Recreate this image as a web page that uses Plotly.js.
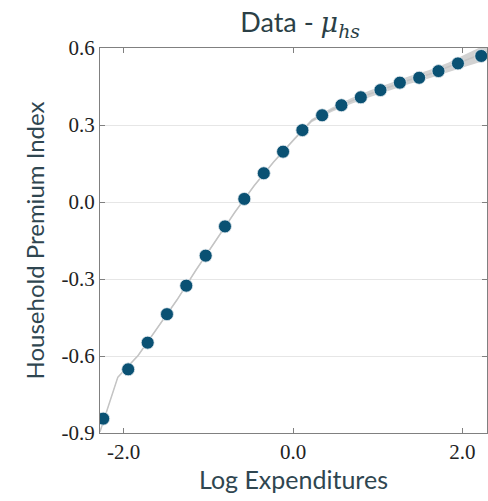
<!DOCTYPE html>
<html>
<head>
<meta charset="utf-8">
<script src="https://cdn.plot.ly/plotly-3.0.1.min.js"></script>
<style>html,body{margin:0;padding:0;background:#fff;}#chart{width:488px;height:501px;}</style>
</head>
<body>
<div id="chart"></div>
<script>
// Binned data points
const pointX = [-2.242, -1.947, -1.717, -1.489, -1.261, -1.032, -0.804, -0.576, -0.346, -0.118,
                0.110, 0.343, 0.571, 0.800, 1.032, 1.261, 1.489, 1.717, 1.947, 2.222];
const pointY = [-0.844, -0.652, -0.548, -0.437, -0.326, -0.209, -0.095, 0.012, 0.112, 0.196,
                0.280, 0.338, 0.377, 0.408, 0.436, 0.465, 0.484, 0.510, 0.540, 0.569];

// Fitted line and its band
const lineX = [-2.28, -2.07, -1.83, -1.60, -1.37, -1.15, -0.92, -0.69, -0.46, -0.23, 0.00,
               0.22, 0.46, 0.69, 0.92, 1.15, 1.37, 1.60, 1.83, 2.06, 2.29];
const lineY = [-0.895, -0.683, -0.598, -0.492, -0.381, -0.267, -0.152, -0.041, 0.063, 0.156, 0.240,
               0.317, 0.360, 0.394, 0.423, 0.451, 0.475, 0.497, 0.525, 0.555, 0.585];
const bandLo = [-0.898, -0.686, -0.601, -0.495, -0.384, -0.270, -0.155, -0.044, 0.060, 0.153, 0.236,
                0.311, 0.352, 0.383, 0.410, 0.437, 0.460, 0.481, 0.507, 0.530, 0.553];
const bandHi = [-0.892, -0.680, -0.595, -0.489, -0.378, -0.264, -0.149, -0.038, 0.066, 0.159, 0.244,
                0.323, 0.368, 0.405, 0.436, 0.465, 0.490, 0.513, 0.543, 0.580, 0.615];

const yTickVals = [-0.9, -0.6, -0.3, 0.0, 0.3, 0.6];
const yTickText = ["-0.9", "-0.6", "-0.3", "0.0", "0.3", "0.6"];
const xTickVals = [-2.0, 0.0, 2.0];
const xTickText = ["-2.0", "0.0", "2.0"];

const serifSpan = t => '<span style="font-family:\'Liberation Serif\'">' + t + '</span>';

const traces = [
  {x: lineX, y: bandLo, type: 'scatter', mode: 'lines', line: {width: 0, color: 'rgba(0,0,0,0)'},
   hoverinfo: 'skip', showlegend: false},
  {x: lineX, y: bandHi, type: 'scatter', mode: 'lines', line: {width: 0, color: 'rgba(0,0,0,0)'},
   fill: 'tonexty', fillcolor: '#d2d2d2', hoverinfo: 'skip', showlegend: false},
  {x: lineX, y: lineY, type: 'scatter', mode: 'lines', line: {width: 1.5, color: '#c4c4c4'},
   showlegend: false},
  {x: pointX, y: pointY, type: 'scatter', mode: 'markers',
   marker: {size: 13, color: '#0a5173', line: {width: 0.8, color: '#e8eef1'}}, showlegend: false}
];

const serif = 'Liberation Serif';
const sans = 'Lato';
const tickFont = {family: serif, size: 21, color: '#222'};
const layout = {
  width: 488, height: 501,
  font: {family: serif, size: 21, color: '#222'},
  margin: {l: 100, r: 1, t: 48, b: 68},
  paper_bgcolor: '#fff', plot_bgcolor: '#fff',
  title: {text: 'Data - <span style="font-family:DejaVu Serif"><i>μ</i><sub><i>hs</i></sub></span>',
          font: {family: sans, size: 27, color: '#2b3f46'},
          x: 0.615, xanchor: 'center', y: 0.955, yanchor: 'middle'},
  xaxis: {range: [-2.28, 2.29], tickmode: 'array', tickvals: xTickVals, ticktext: xTickText.map(serifSpan), tickfont: tickFont,
          showgrid: false, zeroline: false, showline: true, linecolor: '#808080', linewidth: 1,
          mirror: 'ticks', ticks: 'inside', ticklen: 5, tickcolor: '#808080',
          title: {text: 'Log Expenditures', font: {family: sans, size: 25, color: '#2f4650'}, standoff: 8}},
  yaxis: {range: [-0.9, 0.6], tickmode: 'array', tickvals: yTickVals, ticktext: yTickText.map(serifSpan), tickfont: tickFont,
          showgrid: true, gridcolor: '#e6e6e6', gridwidth: 1, zeroline: false,
          showline: true, linecolor: '#808080', linewidth: 1,
          mirror: 'ticks', ticks: 'inside', ticklen: 5, tickcolor: '#808080',
          title: {text: 'Household Premium Index', font: {family: sans, size: 24, color: '#2f4650'}, standoff: 10}}
};

Plotly.newPlot('chart', traces, layout, {displayModeBar: false, staticPlot: true});
</script>
</body>
</html>
